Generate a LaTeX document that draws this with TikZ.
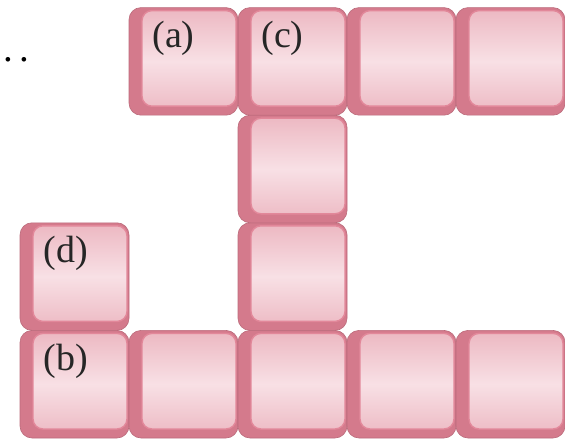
\documentclass[tikz,border=0pt]{standalone}
\usepackage{fontspec}
\setmainfont{Liberation Serif}

\definecolor{keyside}{RGB}{212,122,140}
\definecolor{keyrim}{RGB}{226,136,154}
\definecolor{keyface}{RGB}{236,183,193}
\definecolor{keyshine}{RGB}{248,224,229}

\tikzset{
  keycap/.style={rectangle, rounded corners=6pt, fill=keyside, draw=keyside!88!black, line width=0.3pt,
    outer sep=0, inner sep=0, minimum width=54.5pt, minimum height=53.8pt,
    path picture={
      \draw[keyrim, line width=0.7pt, rounded corners=5pt, top color=keyface, bottom color=keyface, middle color=keyshine]
        ([shift={(6.5pt,4.5pt)}]path picture bounding box.south west) rectangle ([shift={(-1pt,-1.5pt)}]path picture bounding box.north east);
    }},
  tag/.style={anchor=north west, inner sep=0, xshift=11.5pt, yshift=-6.5pt, text=black!85, font=\fontsize{19}{20}\selectfont}
}

\begin{document}
\begin{tikzpicture}
  \useasboundingbox (0,0) rectangle (282.5pt,219.5pt);

  % bottom row
  \draw (10pt,0.5pt) node[keycap, anchor=south west, label={[tag]north west:(b)}] (b) {};
  \draw (b.east) node[keycap, anchor=west] (base2) {};
  \draw (base2.east) node[keycap, anchor=west] (base3) {};
  \draw (base3.east) node[keycap, anchor=west] (base4) {};
  \draw (base4.east) node[keycap, anchor=west] (base5) {};

  % lone key on the left
  \draw (b.north) node[keycap, anchor=south, label={[tag]north west:(d)}] (d) {};

  % middle column
  \draw (base3.north) node[keycap, anchor=south] (mid2) {};
  \draw (mid2.north) node[keycap, anchor=south] (mid1) {};

  % top row
  \draw (mid1.north) node[keycap, anchor=south, label={[tag]north west:(c)}] (c) {};
  \draw (c.west) node[keycap, anchor=east, label={[tag]north west:(a)}] (a) {};
  \draw (c.east) node[keycap, anchor=west] (top3) {};
  \draw (top3.east) node[keycap, anchor=west] (top4) {};

  \node[anchor=base, inner sep=0, font=\fontsize{19.5}{20}\selectfont] (dots) at (8.25pt,188.5pt) {.\,.};
\end{tikzpicture}
\end{document}
